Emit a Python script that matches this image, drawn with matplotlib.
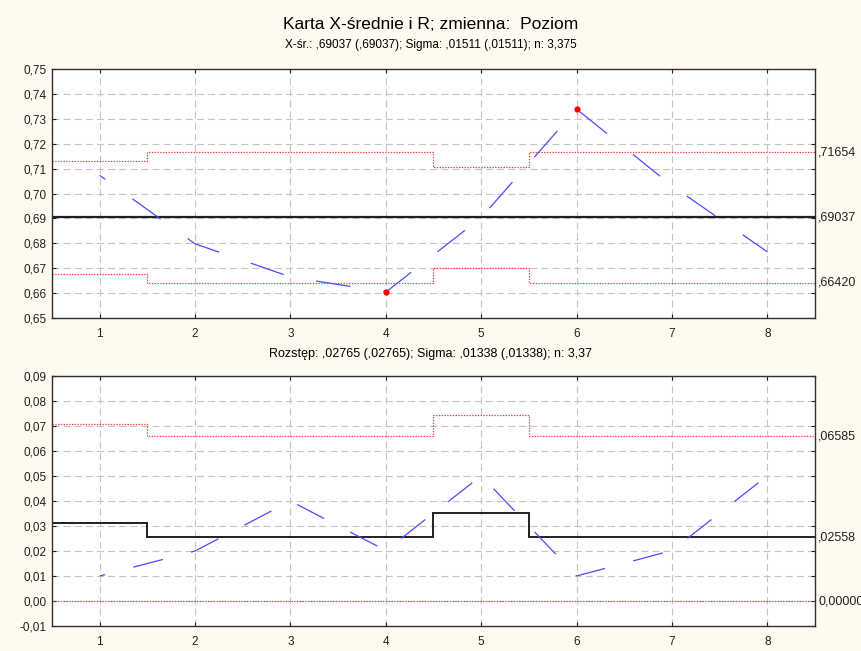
import numpy as np
import matplotlib
matplotlib.use('Agg')
import matplotlib.pyplot as plt

plt.rcParams['font.family'] = ['Liberation Sans', 'DejaVu Sans']
plt.rcParams['lines.scale_dashes'] = False

# próbki i ich wartości
samples = [1, 2, 3, 4, 5, 6, 7, 8]
xbar = [0.7073, 0.6798, 0.6665, 0.6604, 0.6903, 0.7339, 0.7031, 0.6766]
xbar_cl = 0.69037
xbar_ucl = [0.71304, 0.71654, 0.71654, 0.71654, 0.71064, 0.71654, 0.71654, 0.71654]
xbar_lcl = [0.66770, 0.66420, 0.66420, 0.66420, 0.67010, 0.66420, 0.66420, 0.66420]

rozstep = [0.0100, 0.0200, 0.0400, 0.0202, 0.0501, 0.0100, 0.0202, 0.0501]
r_cl = [0.03111, 0.02558, 0.02558, 0.02558, 0.03514, 0.02558, 0.02558, 0.02558]
r_ucl = [0.07100, 0.06585, 0.06585, 0.06585, 0.07429, 0.06585, 0.06585, 0.06585]
r_lcl = [0.0, 0.0, 0.0, 0.0, 0.0, 0.0, 0.0, 0.0]

tytul = "Karta X-średnie i R; zmienna:  Poziom"
podtytul_x = "X-śr.: ,69037 (,69037); Sigma: ,01511 (,01511); n: 3,375"
podtytul_r = "Rozstęp: ,02765 (,02765); Sigma: ,01338 (,01338); n: 3,37"

BG = '#fffaef'
BLUE = '#4a4aff'
RED = '#ff3a3a'


def fmt_left(v, pos=None):
    return f"{round(v, 2) + 0.0:.2f}".replace('.', ',')


def fmt_right(v):
    s = f"{v:.5f}".replace('.', ',')
    return s[1:] if s.startswith('0,') and v != 0 else s


def przygotuj(ax, ylim, yticks):
    ax.set_facecolor('white')
    ax.set_xlim(0.5, 8.5)
    ax.set_ylim(*ylim)
    ax.set_xticks(samples)
    ax.set_yticks(yticks)
    ax.yaxis.set_major_formatter(plt.FuncFormatter(fmt_left))
    ax.grid(True, color='#c4c4c4', linestyle=(0, (5, 3)), linewidth=0.8)
    ax.set_axisbelow(True)
    ax.tick_params(direction='in', top=True, right=True, length=3,
                   labelsize=8.5, colors='#202020')
    ax.tick_params(axis='x', pad=7)
    ax.tick_params(axis='y', pad=4)
    for s in ax.spines.values():
        s.set_color('#303030')
        s.set_linewidth(1.0)


def prawe_etykiety(ax, vals):
    for v in vals:
        ax.text(1.004, v, fmt_right(v), transform=ax.get_yaxis_transform(),
                ha='left', va='center', fontsize=9, color='#202020')


fig = plt.figure(figsize=(8.62, 6.51), dpi=100, facecolor=BG)
edges = np.arange(0.5, 8.6, 1.0)

# karta średnich
ax1 = fig.add_axes([0.0603, 0.5115, 0.8852, 0.3825])
przygotuj(ax1, (0.65, 0.75), np.arange(0.65, 0.7501, 0.01))
ax1.stairs(xbar_ucl, edges, baseline=None, color=RED, linestyle=(0, (1, 1)), linewidth=0.9)
ax1.stairs(xbar_lcl, edges, baseline=None, color=RED, linestyle=(0, (1, 1)), linewidth=0.9)
ax1.axhline(xbar_cl, color='#202020', linewidth=1.6)
ax1.plot(samples, xbar, color=BLUE, linewidth=0.9, linestyle=(20, (25, 24)))
poza = [(s, v) for s, v, u, l in zip(samples, xbar, xbar_ucl, xbar_lcl) if v > u or v < l]
ax1.plot([p[0] for p in poza], [p[1] for p in poza], 'o', color='red',
         markersize=4.5, markeredgewidth=0)
prawe_etykiety(ax1, [xbar_ucl[-1], xbar_cl, xbar_lcl[-1]])

# karta rozstępów
ax2 = fig.add_axes([0.0603, 0.0384, 0.8852, 0.384])
przygotuj(ax2, (-0.01, 0.09), np.arange(-0.01, 0.0901, 0.01))
ax2.stairs(r_ucl, edges, baseline=None, color=RED, linestyle=(0, (1, 1)), linewidth=0.9)
ax2.stairs(r_lcl, edges, baseline=None, color=RED, linestyle=(0, (1, 1)), linewidth=0.9)
ax2.stairs(r_cl, edges, baseline=None, color='#202020', linewidth=1.4)
ax2.plot(samples, rozstep, color=BLUE, linewidth=0.9, linestyle=(18, (22, 21)))
prawe_etykiety(ax2, [r_ucl[-1], r_cl[-1], r_lcl[-1]])

fig.text(0.5, 0.9616, tytul, ha='center', va='center', fontsize=12.5)
fig.text(0.5, 0.931, podtytul_x, ha='center', va='center', fontsize=8.5)
fig.text(0.5, 0.456, podtytul_r, ha='center', va='center', fontsize=9)

fig.savefig('out.png', dpi=100, facecolor=BG)
